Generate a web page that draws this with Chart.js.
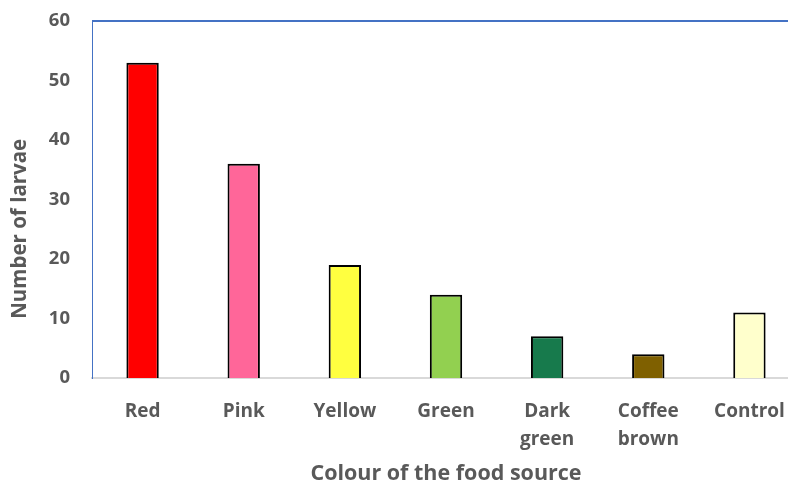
<!DOCTYPE html>
<html>
<head>
<meta charset="utf-8">
<script src="https://cdn.jsdelivr.net/npm/chart.js@4.4.1/dist/chart.umd.min.js"></script>
<style>
    html, body { margin: 0; padding: 0; background: #fff; overflow: hidden; }
    #wrap { position: relative; width: 800px; height: 487px; }
</style>
</head>
<body>
<div id="wrap"><canvas id="larvae-chart"></canvas></div>
<script>
// Données du graphique
const categories = ['Red', 'Pink', 'Yellow', 'Green', ['Dark', 'green'], ['Coffee', 'brown'], 'Control'];
const larvaeCounts = [53, 36, 19, 14, 7, 4, 11];
const barColours = ['#FF0000', '#FF6699', '#FFFF40', '#92D050', '#177A4C', '#7F6000', '#FFFFCC'];
const yTicks = [0, 10, 20, 30, 40, 50, 60];

const textGrey = '#595959';
const fontFamily = '"Open Sans", Lato, sans-serif';

// Bordure bleue en haut de la zone de tracé
const plotBorder = {
    id: 'plotBorder',
    afterDraw(chart) {
        const { ctx, chartArea } = chart;
        ctx.save();
        ctx.strokeStyle = '#4472C4';
        ctx.lineWidth = 2;
        ctx.beginPath();
        ctx.moveTo(chartArea.left, chartArea.top);
        ctx.lineTo(chartArea.right + 10, chartArea.top);
        ctx.stroke();
        ctx.restore();
    }
};

const ctx = document.getElementById('larvae-chart').getContext('2d');
new Chart(ctx, {
    type: 'bar',
    data: {
        labels: categories,
        datasets: [{
            label: 'Number of larvae',
            data: larvaeCounts,
            backgroundColor: barColours,
            borderColor: '#000',
            borderWidth: 2,
            barPercentage: 0.32,
            categoryPercentage: 1
        }]
    },
    options: {
        responsive: true,
        maintainAspectRatio: false,
        animation: false,
        layout: { padding: { top: 21, left: 0, right: 0, bottom: 0 } },
        plugins: {
            legend: { display: false },
            tooltip: { enabled: false }
        },
        scales: {
            x: {
                grid: { display: false, drawTicks: false },
                border: { color: '#D9D9D9', width: 2 },
                ticks: {
                    color: textGrey,
                    padding: 20,
                    maxRotation: 0,
                    autoSkip: false,
                    font: { family: fontFamily, size: 19, weight: 'bold', lineHeight: 1.45 }
                },
                title: {
                    display: true,
                    text: 'Colour of the food source',
                    color: textGrey,
                    padding: { top: 0, bottom: 0 },
                    font: { family: fontFamily, size: 21.5, weight: 'bold' }
                },
                afterFit(scale) {
                    scale.height = 109;
                    scale.paddingLeft = 0;
                    scale.paddingRight = 0;
                }
            },
            y: {
                min: 0,
                max: 60,
                afterBuildTicks(scale) { scale.ticks = yTicks.map(v => ({ value: v })); },
                grid: { display: false, drawTicks: false },
                border: { color: '#4472C4', width: 1 },
                ticks: {
                    color: textGrey,
                    padding: 22,
                    font: { family: fontFamily, size: 18.5, weight: 'bold' }
                },
                title: {
                    display: true,
                    text: 'Number of larvae           ',
                    color: textGrey,
                    padding: { top: 8, bottom: 0 },
                    font: { family: fontFamily, size: 20.5, weight: 'bold' }
                },
                afterFit(scale) {
                    scale.width = 92;
                    scale.paddingTop = 0;
                    scale.paddingBottom = 0;
                }
            }
        }
    },
    plugins: [plotBorder]
});
</script>
</body>
</html>
